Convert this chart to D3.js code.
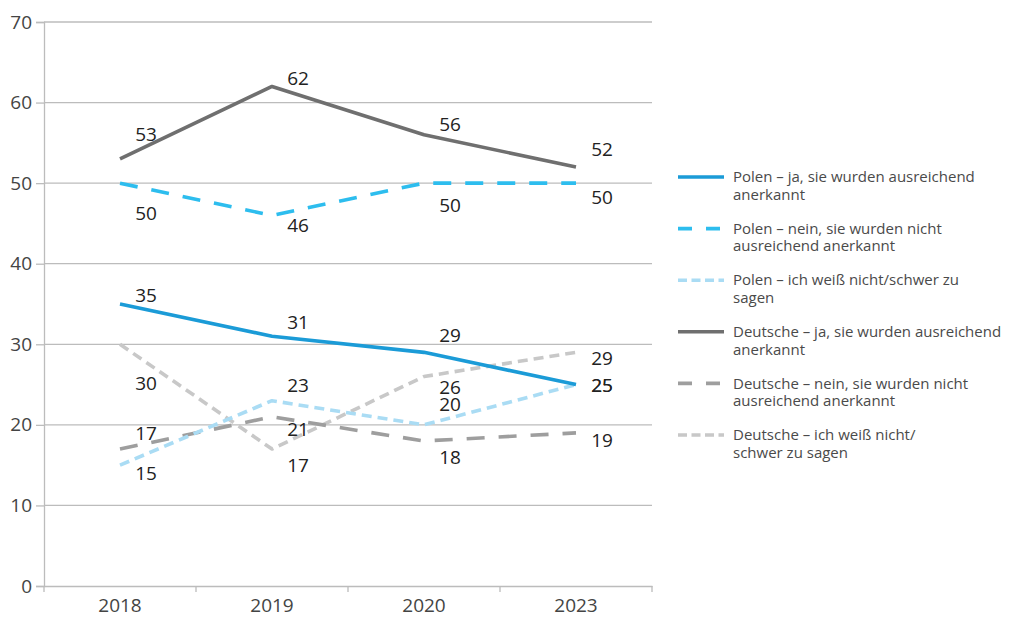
<!DOCTYPE html>
<html>
<head>
<meta charset="utf-8">
<script src="https://cdn.jsdelivr.net/npm/d3@7"></script>
<style>
  body { margin: 0; background: #fff; }
  text { font-family: "Open Sans", "Noto Sans", sans-serif; }
</style>
</head>
<body>
<script>
var years = ["2018", "2019", "2020", "2023"];
var seriesNames = [
  ["Polen – ja, sie wurden ausreichend", "anerkannt"],
  ["Polen – nein, sie wurden nicht", "ausreichend anerkannt"],
  ["Polen – ich weiß nicht/schwer zu", "sagen"],
  ["Deutsche – ja, sie wurden ausreichend", "anerkannt"],
  ["Deutsche – nein, sie wurden nicht", "ausreichend anerkannt"],
  ["Deutsche – ich weiß nicht/", "schwer zu sagen"]
];
var polenJa = [35, 31, 29, 25];
var polenNein = [50, 46, 50, 50];
var polenWeiss = [15, 23, 20, 25];
var deutscheJa = [53, 62, 56, 52];
var deutscheNein = [17, 21, 18, 19];
var deutscheWeiss = [30, 17, 26, 29];
var yTicks = [0, 10, 20, 30, 40, 50, 60, 70];

// label vertical shift per series / year (hand placed in the original)
var labelShift = [
  [-9, -14, -17, 1],
  [30, 10, 22, 14],
  [8, -15, -21, 1],
  [-25, -8, -10, -18],
  [-16, 13, 16, 7],
  [39, 16, 11, 6]
];

var colors = ["#1b9bd7", "#2dbdee", "#aadcf4", "#6f6f6f", "#9e9e9e", "#c8c8c8"];
var dashes = [null, "18,14", "10,6", null, "18,14", "10,6"];
var allValues = [polenJa, polenNein, polenWeiss, deutscheJa, deutscheNein, deutscheWeiss];

var width = 1016, height = 617;
var margin = { top: 22, right: 364, bottom: 31, left: 44 };

var svg = d3.select("body").append("svg")
  .attr("width", width)
  .attr("height", height);

var x = d3.scaleBand()
  .domain(years)
  .range([margin.left, width - margin.right]);

var y = d3.scaleLinear()
  .domain([0, 70])
  .range([height - margin.bottom, margin.top]);

// gridlines
svg.append("g")
  .selectAll("line")
  .data(yTicks.slice(1))
  .enter()
  .append("line")
  .attr("x1", margin.left)
  .attr("x2", width - margin.right)
  .attr("y1", d => y(d))
  .attr("y2", d => y(d))
  .attr("stroke", "#bcbcbc")
  .attr("stroke-width", 1.3);

// y axis
var yAxis = svg.append("g")
  .attr("transform", "translate(" + margin.left + ",0)")
  .call(d3.axisLeft(y).tickValues(yTicks).tickSize(8).tickPadding(4));
yAxis.select(".domain").attr("stroke", "#bcbcbc").attr("stroke-width", 1.3);
yAxis.selectAll(".tick line").attr("stroke", "#bcbcbc").attr("stroke-width", 1.3);
yAxis.selectAll(".tick text")
  .attr("fill", "#444")
  .style("font-size", "19px");

// x axis
var xAxis = svg.append("g")
  .attr("transform", "translate(0," + y(0) + ")")
  .call(d3.axisBottom(x).tickSize(0).tickPadding(13));
xAxis.select(".domain").attr("stroke", "#bcbcbc").attr("stroke-width", 1.3);
xAxis.selectAll(".tick text")
  .attr("fill", "#444")
  .style("font-size", "19px");
xAxis.selectAll(".sep")
  .data(years.concat(["end"]))
  .enter()
  .append("line")
  .attr("x1", (d, i) => margin.left + i * x.bandwidth())
  .attr("x2", (d, i) => margin.left + i * x.bandwidth())
  .attr("y1", 0)
  .attr("y2", 6)
  .attr("stroke", "#bcbcbc")
  .attr("stroke-width", 1.3);

var line = d3.line()
  .x((d, i) => x(years[i]) + x.bandwidth() / 2)
  .y(d => y(d));

// lines, drawn back to front like the original
var order = [5, 4, 3, 2, 1, 0];
order.forEach(function(s) {
  svg.append("path")
    .datum(allValues[s])
    .attr("d", line)
    .attr("fill", "none")
    .attr("stroke", colors[s])
    .attr("stroke-width", 3.6)
    .attr("stroke-linejoin", "round")
    .attr("stroke-dasharray", dashes[s]);
});

// data labels
allValues.forEach(function(vals, s) {
  svg.append("g")
    .selectAll("text")
    .data(vals)
    .enter()
    .append("text")
    .attr("x", (d, i) => x(years[i]) + x.bandwidth() / 2 + 26)
    .attr("y", (d, i) => y(d) + labelShift[s][i])
    .attr("dy", "0.35em")
    .attr("text-anchor", "middle")
    .attr("fill", "#222")
    .style("font-size", "19px")
    .text(d => d);
});

// legend
var legend = svg.append("g")
  .attr("transform", "translate(678,177)");

var items = legend.selectAll("g")
  .data(seriesNames)
  .enter()
  .append("g")
  .attr("transform", (d, i) => "translate(0," + i * 51.6 + ")");

items.append("line")
  .attr("x1", 0)
  .attr("x2", 46)
  .attr("stroke", (d, i) => colors[i])
  .attr("stroke-width", 3.6)
  .attr("stroke-dasharray", (d, i) => dashes[i] ? (i % 3 === 1 ? "14,14" : "9,4.5") : null);

items.append("text")
  .attr("x", 55)
  .attr("fill", "#4a4a4a")
  .style("font-size", "15px")
  .selectAll("tspan")
  .data(d => d)
  .enter()
  .append("tspan")
  .attr("x", 55)
  .attr("dy", (d, i) => i === 0 ? "0.35em" : "17.5px")
  .text(d => d);
</script>
</body>
</html>
